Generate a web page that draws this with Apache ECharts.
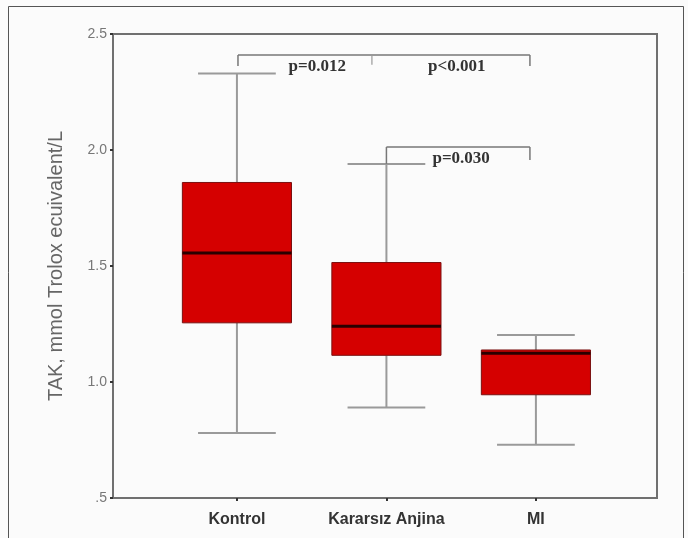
<!DOCTYPE html>
<html>
<head>
<meta charset="utf-8">
<script src="https://cdn.jsdelivr.net/npm/echarts@6/dist/echarts.min.js"></script>
<style>
html,body{margin:0;padding:0;background:#fbfbfb;}
#c{width:688px;height:538px;}
</style>
</head>
<body>
<div id="c"></div>
<script>
// ---- data ----
const categories = ['Kontrol', 'Kararsız Anjina', 'MI'];
const catPos = [1, 2, 3];
const whiskerLow = [0.78, 0.89, 0.73];
const q1 = [1.255, 1.115, 0.945];
const median = [1.556, 1.24, 1.124];
const q3 = [1.86, 1.515, 1.138];
const whiskerHigh = [2.33, 1.94, 1.203];
const yTicks = [0.5, 1.0, 1.5, 2.0, 2.5];
const yTickLabels = ['.5', '1.0', '1.5', '2.0', '2.5'];
// significance brackets: [xStart, xEnd, yLine, yLeftEnd, yRightEnd]
const bracketX1 = [1.007, 2.0];
const bracketX2 = [2.96, 2.96];
const bracketY = [2.41, 2.013];
const bracketLeftEnd = [2.362, 1.94];
const bracketRightEnd = [2.362, 1.957];
const midTickX = [1.903];
const pTexts = ['p=0.012', 'p<0.001', 'p=0.030'];
const pTextX = [1.537, 2.47, 2.5];
const pTextY = [2.36, 2.36, 1.963];

const boxData = catPos.map((x, i) => [x, whiskerLow[i], q1[i], median[i], q3[i], whiskerHigh[i]]);
const bracketData = bracketX1.map((x, i) => [x, bracketX2[i], bracketY[i], bracketLeftEnd[i], bracketRightEnd[i]]);

const chart = echarts.init(document.getElementById('c'));

function renderBox(params, api) {
  const x = api.value(0);
  const lo = api.coord([x, api.value(1)]);
  const b1 = api.coord([x, api.value(2)]);
  const md = api.coord([x, api.value(3)]);
  const b3 = api.coord([x, api.value(4)]);
  const hi = api.coord([x, api.value(5)]);
  const halfBox = api.size([0.365, 0])[0];
  const halfCap = api.size([0.26, 0])[0];
  const cx = lo[0];
  const wStyle = {stroke: '#9a9a9a', lineWidth: 2};
  return {
    type: 'group',
    children: [
      {type: 'line', shape: {x1: cx, y1: hi[1], x2: cx, y2: b3[1]}, style: wStyle},
      {type: 'line', shape: {x1: cx, y1: b1[1], x2: cx, y2: lo[1]}, style: wStyle},
      {type: 'line', shape: {x1: cx - halfCap, y1: hi[1], x2: cx + halfCap, y2: hi[1]}, style: wStyle},
      {type: 'line', shape: {x1: cx - halfCap, y1: lo[1], x2: cx + halfCap, y2: lo[1]}, style: wStyle},
      {type: 'rect', shape: {x: cx - halfBox, y: b3[1], width: halfBox * 2, height: b1[1] - b3[1]},
        style: {fill: '#d50000', stroke: '#7a1010', lineWidth: 1}},
      {type: 'line', shape: {x1: cx - halfBox, y1: md[1], x2: cx + halfBox, y2: md[1]},
        style: {stroke: '#2a0000', lineWidth: 3}}
    ]
  };
}

function renderBracket(params, api) {
  const a = api.coord([api.value(0), api.value(2)]);
  const b = api.coord([api.value(1), api.value(2)]);
  const la = api.coord([api.value(0), api.value(3)]);
  const rb = api.coord([api.value(1), api.value(4)]);
  const st = {stroke: '#777', lineWidth: 1.5};
  return {
    type: 'group',
    children: [
      {type: 'line', shape: {x1: a[0], y1: a[1], x2: b[0], y2: b[1]}, style: st},
      {type: 'line', shape: {x1: a[0], y1: a[1], x2: la[0], y2: la[1]}, style: st},
      {type: 'line', shape: {x1: b[0], y1: b[1], x2: rb[0], y2: rb[1]}, style: st}
    ]
  };
}

function renderMidTick(params, api) {
  const a = api.coord([api.value(0), bracketY[0]]);
  const b = api.coord([api.value(0), bracketLeftEnd[0] + 0.005]);
  return {type: 'line', shape: {x1: a[0], y1: a[1], x2: b[0], y2: b[1]}, style: {stroke: '#999', lineWidth: 1.2}};
}

function renderText(params, api) {
  const p = api.coord([api.value(0), api.value(1)]);
  return {
    type: 'text',
    x: p[0], y: p[1],
    style: {
      text: pTexts[params.dataIndex],
      fill: '#333',
      font: 'bold 17px "Liberation Serif", "DejaVu Serif", serif',
      align: 'center', verticalAlign: 'middle'
    }
  };
}

chart.setOption({
  backgroundColor: '#fbfbfb',
  animation: false,
  graphic: [{
    type: 'rect', silent: true,
    shape: {x: 8.5, y: 6.5, width: 675, height: 545},
    style: {fill: 'none', stroke: '#555', lineWidth: 1}
  }],
  grid: {left: 113, top: 34, right: 31, bottom: 40, show: true, borderColor: '#707070', borderWidth: 2, backgroundColor: 'transparent'},
  xAxis: {
    type: 'value', min: 0.171, max: 3.81,
    axisLine: {show: true, lineStyle: {color: '#707070', width: 2}},
    splitLine: {show: false},
    axisTick: {show: true, customValues: catPos, length: 3, lineStyle: {color: '#333', width: 2}},
    axisLabel: {
      customValues: catPos,
      formatter: v => categories[catPos.indexOf(Math.round(v))] || '',
      fontFamily: 'Liberation Sans, Arial, sans-serif', fontWeight: 'bold', fontSize: 16, color: '#333', margin: 14
    }
  },
  yAxis: {
    type: 'value', min: 0.5, max: 2.5, interval: 0.5,
    name: 'TAK, mmol Trolox ecuivalent/L', nameLocation: 'middle', nameGap: 47,
    nameTextStyle: {fontFamily: 'Liberation Sans, Arial, sans-serif', fontSize: 20, color: '#666'},
    axisLine: {show: true, lineStyle: {color: '#707070', width: 2}},
    splitLine: {show: false},
    axisTick: {show: true, length: 3, lineStyle: {color: '#333', width: 2}},
    axisLabel: {
      formatter: v => { const i = yTicks.findIndex(t => Math.abs(t - v) < 1e-6); return i >= 0 ? yTickLabels[i] : ''; },
      fontFamily: 'Liberation Sans, Arial, sans-serif', fontSize: 14, color: '#777', margin: 6
    }
  },
  series: [
    {type: 'custom', renderItem: renderBox, data: boxData, encode: {x: 0, y: [1, 5]}, z: 3},
    {type: 'custom', renderItem: renderBracket, data: bracketData, encode: {x: [0, 1], y: 2}, z: 4},
    {type: 'custom', renderItem: renderMidTick, data: midTickX.map(x => [x]), encode: {x: 0}, z: 4},
    {type: 'custom', renderItem: renderText, data: pTextX.map((x, i) => [x, pTextY[i]]), encode: {x: 0, y: 1}, z: 5}
  ]
});
</script>
</body>
</html>
